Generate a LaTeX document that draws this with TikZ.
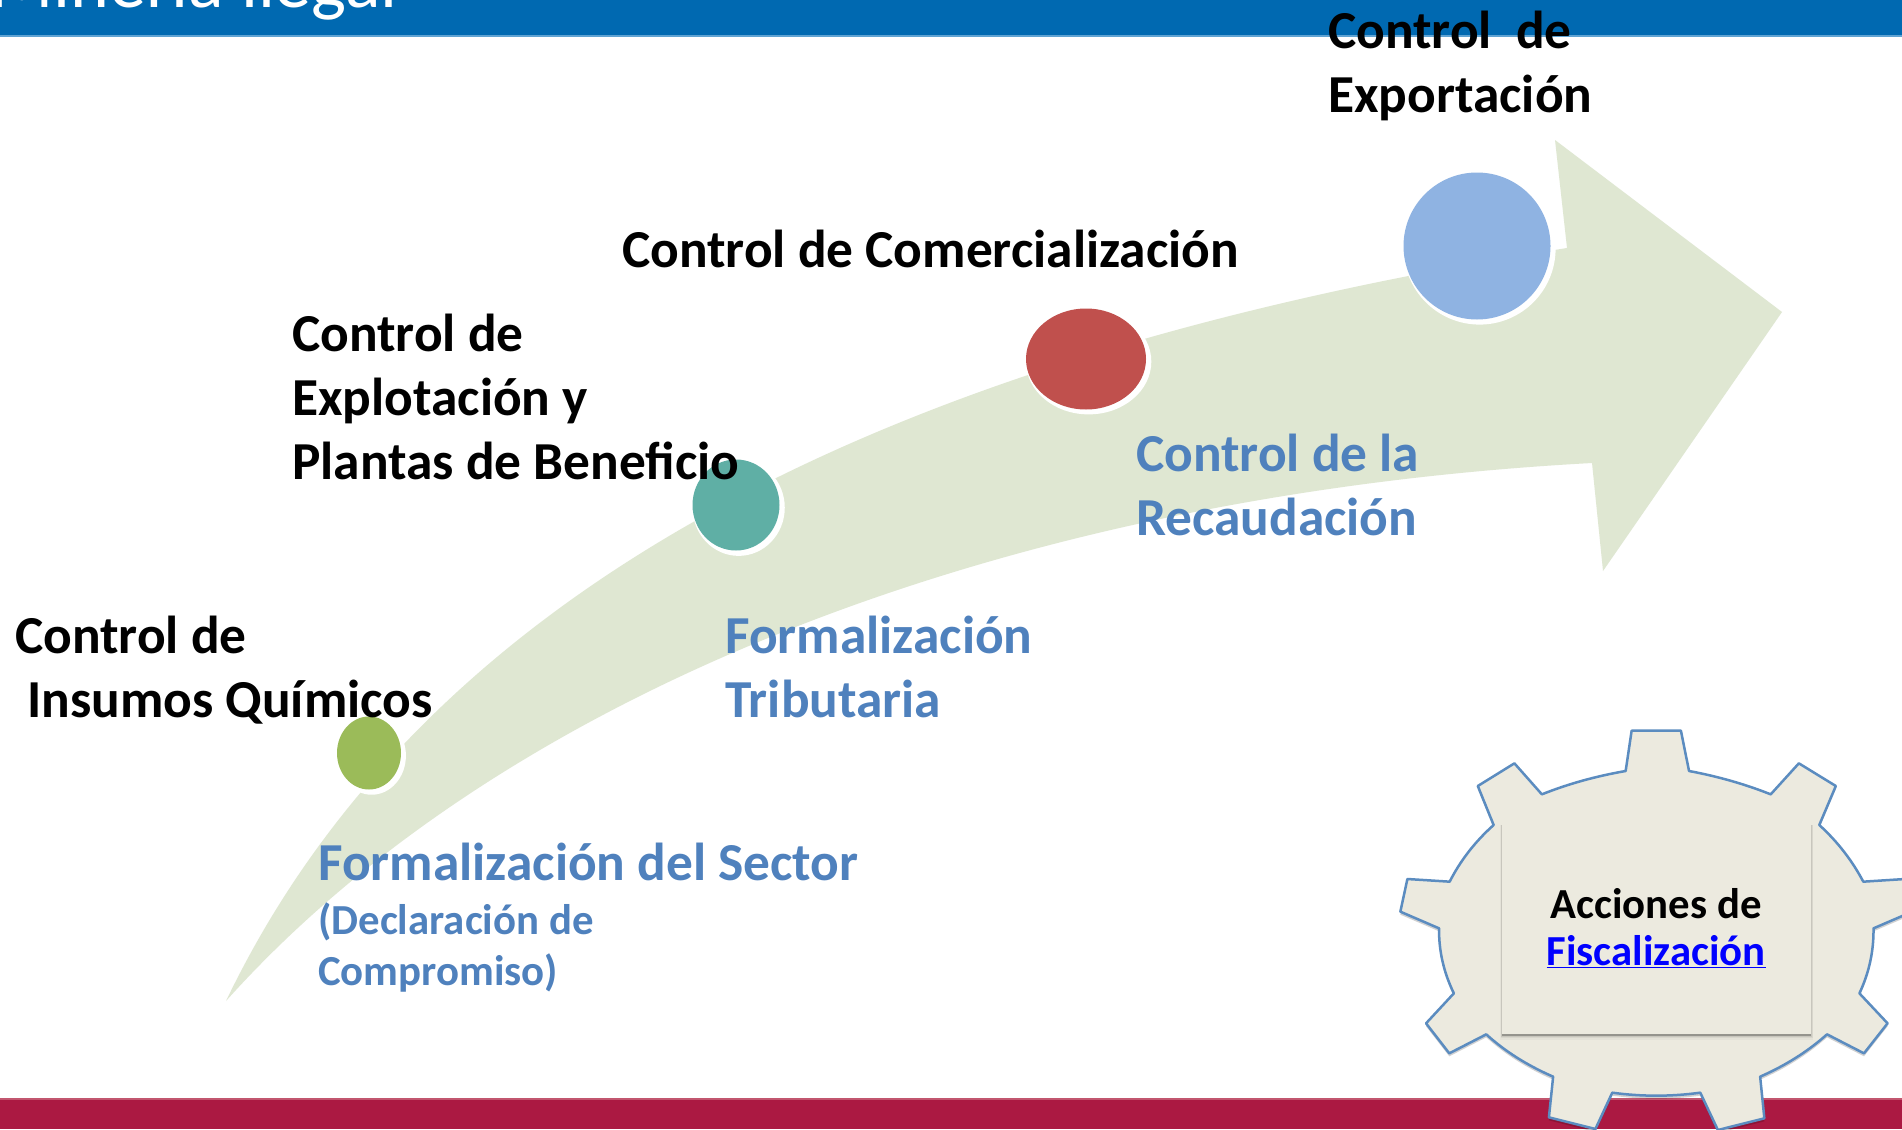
\documentclass[tikz,border=0pt]{standalone}
\usepackage{fontspec}
\setmainfont{Carlito}
\definecolor{band}{HTML}{0069B1}
\definecolor{bandedge}{HTML}{5FA3D3}
\definecolor{foot}{HTML}{AB1942}
\definecolor{footedge}{HTML}{C2566F}
\definecolor{arrowfill}{HTML}{DFE7D2}
\definecolor{txtblue}{HTML}{4F81BD}
\definecolor{cgreen}{HTML}{9BBB59}
\definecolor{cteal}{HTML}{5FAFA5}
\definecolor{cred}{HTML}{C0504D}
\definecolor{cblue}{HTML}{8FB3E2}
\definecolor{gearfill}{HTML}{ECEADF}
\definecolor{gearline}{HTML}{5B8CC0}
\usetikzlibrary{shapes.geometric,shadows}
\tikzset{
  bigtxt/.style={anchor=base west,inner sep=0pt,align=left,font=\bfseries\fontsize{53.4}{64}\selectfont},
  smalltxt/.style={anchor=base west,inner sep=0pt,align=left,font=\bfseries\fontsize{42.8}{50.5}\selectfont},
  dot/.style={ellipse,inner sep=0pt,outer sep=0pt,general shadow={fill=white,shadow xshift=2.5pt,shadow yshift=-2.5pt,shadow scale=#1}},
}
\begin{document}
\begin{tikzpicture}[x=1pt,y=-1pt]
\useasboundingbox (0,0) rectangle (1902,1129);
\clip (0,0) rectangle (1902,1129);
\fill[white] (0,0) rectangle (1902,1129);
% bands
\fill[band] (0,0) rectangle (1902,35);
\fill[bandedge] (0,35) rectangle (1902,37);
\fill[foot] (0,1099) rectangle (1902,1129);
\fill[footedge] (0,1098) rectangle (1902,1100);
\node[anchor=base east,inner sep=0pt,text=white,font=\fontsize{74}{74}\selectfont] (title) at (398,8) {Minería ilegal};
% arrow
\fill[arrowfill] (226,1001)
  .. controls (440,555) and (950,345) .. (1567,248)
  -- (1555,140) -- (1782,312) -- (1603,571) -- (1592,463)
  .. controls (1000,495) and (500,695) .. (226,1001) -- cycle;
% circles
\node[dot=1.07,fill=cgreen,minimum width=64pt,minimum height=73pt] (c1) at (369,753) {};
\node[dot=1.06,fill=cteal,minimum width=87pt,minimum height=91pt] (c2) at (736,505) {};
\node[dot=1.045,fill=cred,minimum width=120pt,minimum height=101pt] (c3) at (1086,359) {};
\node[dot=1.034,fill=cblue,minimum width=147pt,minimum height=147pt] (c4) at (1477,246) {};
% texts
\node[bigtxt] (t1) at (1328,113) {Control\ \ de\\Exportación};
\node[bigtxt] (t2) at (622,267) {Control de Comercialización};
\node[bigtxt] (t3) at (292,479) {Control de\\Explotación y\\Plantas de Beneficio};
\node[bigtxt] (t4) at (15,717) {Control de\\\hspace*{12pt}Insumos Químicos};
\node[bigtxt,text=txtblue] (t5) at (1136,535) {Control de la\\Recaudación};
\node[bigtxt,text=txtblue] (t6) at (725,717) {Formalización\\Tributaria};
\node[bigtxt,text=txtblue] (t7) at (318,880) {Formalización del Sector};
\node[smalltxt,text=txtblue] (t8) at (318,985) {(Declaración de\\Compromiso)};
% gear
\begin{scope}[shift={(1350,700)},x=0.35204pt,y=-0.33333pt]
\def\gearpath{(783,213) -- (800,92) -- (940,92) -- (963,213)
  .. controls (1044,229) and (1121,252) .. (1195,283)
  -- (1275,190) -- (1380,258) -- (1333,375)
  .. controls (1386,426) and (1427,483) .. (1458,545)
  -- (1577,537) -- (1597,635) -- (1487,685)
  .. controls (1488,752) and (1475,817) .. (1447,880)
  -- (1527,970) -- (1460,1060) -- (1355,1003)
  .. controls (1301,1054) and (1238,1096) .. (1165,1130)
  -- (1177,1255) -- (1045,1290) -- (995,1178)
  .. controls (912,1190) and (828,1190) .. (745,1178)
  -- (697,1287) -- (565,1252) -- (577,1130)
  .. controls (503,1096) and (440,1054) .. (387,1003)
  -- (282,1060) -- (216,970) -- (295,880)
  .. controls (266,817) and (252,752) .. (253,685)
  -- (143,635) -- (163,537) -- (283,545)
  .. controls (313,483) and (354,426) .. (408,375)
  -- (363,258) -- (467,190) -- (545,283)
  .. controls (619,252) and (696,229) .. (783,213) -- cycle}
\fill[black,opacity=.18,yshift=-3pt] \gearpath;
\draw[gearline,fill=gearfill,line width=2.5pt,line join=round] \gearpath;
\fill[black,opacity=.03] (426,375) rectangle (1316,1020);
\fill[black,opacity=.05] (428,375) rectangle (1314,1015);
\fill[black,opacity=.07] (430,375) rectangle (1312,1011);
\fill[black,opacity=.25] (432,1003) rectangle (1310,1008);
\fill[gearfill] (432,375) rectangle (1310,1003);
\end{scope}
\node[anchor=center,inner sep=0pt,align=center,font=\bfseries\fontsize{42.8}{46.5}\selectfont] (gtxt) at (1656,928)
  {Acciones de\\\textcolor{blue}{\underline{Fiscalización}}};
\end{tikzpicture}
\end{document}
